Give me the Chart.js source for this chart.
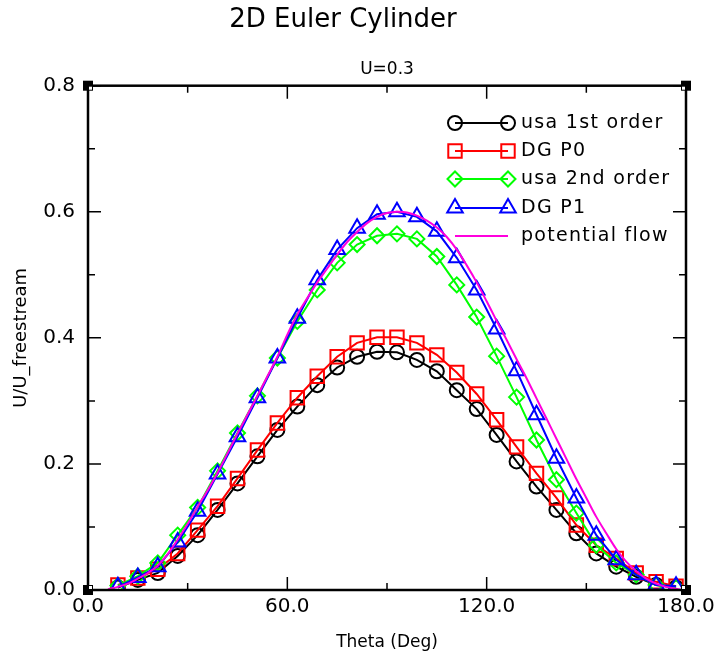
<!DOCTYPE html>
<html>
<head>
<meta charset="utf-8">
<script src="https://cdn.jsdelivr.net/npm/chart.js@4.4.1/dist/chart.umd.min.js"></script>
<style>
  html, body { margin: 0; padding: 0; background: #fff; }
  #wrap { width: 715px; height: 661px; }
</style>
</head>
<body>
<div id="wrap"><canvas id="myChart" width="715" height="661"></canvas></div>
<script>
// theta of the cell centres (deg)
const theta = [9, 15, 21, 27, 33, 39, 45, 51, 57, 63, 69, 75, 81, 87, 93, 99, 105, 111, 117, 123, 129, 135, 141, 147, 153, 159, 165, 171, 177];

const usa1st = [0.004, 0.016, 0.027, 0.054, 0.087, 0.127, 0.169, 0.212, 0.254, 0.291, 0.325, 0.353, 0.370, 0.378, 0.377,
  0.365, 0.347, 0.317, 0.287, 0.246, 0.204, 0.164, 0.127, 0.090, 0.058, 0.037, 0.021, 0.008, 0.004];
const dgP0 = [0.008, 0.019, 0.033, 0.058, 0.095, 0.133, 0.177, 0.222, 0.265, 0.305, 0.339, 0.370, 0.392, 0.401, 0.401,
  0.392, 0.373, 0.345, 0.311, 0.270, 0.227, 0.185, 0.146, 0.103, 0.071, 0.050, 0.027, 0.013, 0.006];
const usa2nd = [0.007, 0.022, 0.043, 0.087, 0.131, 0.189, 0.249, 0.308, 0.368, 0.426, 0.476, 0.519, 0.548, 0.562, 0.565,
  0.557, 0.529, 0.484, 0.433, 0.371, 0.306, 0.238, 0.175, 0.122, 0.071, 0.043, 0.024, 0.008, 0.004];
const dgP1 = [0.005, 0.020, 0.037, 0.076, 0.125, 0.184, 0.243, 0.305, 0.368, 0.431, 0.492, 0.540, 0.574, 0.596, 0.600,
  0.592, 0.569, 0.527, 0.476, 0.414, 0.348, 0.278, 0.209, 0.146, 0.087, 0.048, 0.024, 0.008, 0.006];

// potential flow curve
const potTheta = [6, 9, 12, 15, 18, 21, 24, 27, 30, 33, 36, 39, 42, 45, 48, 51, 54, 57, 60, 63, 66, 69, 72, 75, 78, 81, 84, 87, 90,
  93, 96, 99, 102, 105, 108, 111, 114, 117, 120, 123, 126, 129, 132, 135, 138, 141, 144, 147, 150, 153, 156, 159, 162, 165,
  168, 171, 174, 177, 179];
const potU = [0.001, 0.005, 0.010, 0.018, 0.027, 0.039, 0.057, 0.080, 0.105, 0.132, 0.158, 0.186, 0.217, 0.248, 0.278, 0.308,
  0.339, 0.370, 0.405, 0.437, 0.463, 0.488, 0.510, 0.532, 0.552, 0.568, 0.582, 0.592, 0.598, 0.600, 0.599, 0.594, 0.586,
  0.575, 0.560, 0.540, 0.515, 0.488, 0.458, 0.427, 0.397, 0.366, 0.336, 0.304, 0.272, 0.240, 0.208, 0.176, 0.146, 0.116,
  0.090, 0.065, 0.045, 0.030, 0.018, 0.010, 0.005, 0.002, 0.000];

const xMajor = [0, 60, 120, 180];
const xMinor = [30, 90, 150];
const xTickLabels = ['0.0', '60.0', '120.0', '180.0'];
const yMajor = [0, 0.2, 0.4, 0.6, 0.8];
const yMinor = [0.1, 0.3, 0.5, 0.7];
const yTickLabels = ['0.0', '0.2', '0.4', '0.6', '0.8'];

const FONT = 'DejaVu Sans';

function pts(xs, ys) {
    return xs.map((x, i) => ({ x: x, y: ys[i] }));
}

// frame, inward ticks, corner marks
const framePlugin = {
    id: 'frame',
    afterDatasetsDraw(chart) {
        const ctx = chart.ctx;
        const a = chart.chartArea;
        const xs = chart.scales.x, ys = chart.scales.y;
        ctx.save();
        ctx.strokeStyle = '#000';
        ctx.lineWidth = 2.5;
        ctx.strokeRect(a.left, a.top, a.right - a.left, a.bottom - a.top);
        ctx.lineWidth = 1.5;
        ctx.beginPath();
        const tick = (vals, len) => {
            vals.forEach(v => {
                const px = xs.getPixelForValue(v);
                ctx.moveTo(px, a.bottom); ctx.lineTo(px, a.bottom - len);
                ctx.moveTo(px, a.top); ctx.lineTo(px, a.top + len);
            });
        };
        const ytick = (vals, len) => {
            vals.forEach(v => {
                const py = ys.getPixelForValue(v);
                ctx.moveTo(a.left, py); ctx.lineTo(a.left + len, py);
                ctx.moveTo(a.right, py); ctx.lineTo(a.right - len, py);
            });
        };
        tick(xMajor, 13); tick(xMinor, 7);
        ytick(yMajor, 13); ytick(yMinor, 7);
        ctx.stroke();
        // corner squares
        [[a.left, a.top, 1, 1], [a.right, a.top, -1, 1], [a.left, a.bottom, 1, -1], [a.right, a.bottom, -1, -1]].forEach(c => {
            ctx.fillStyle = '#000';
            ctx.fillRect(c[0] - 5, c[1] - 5, 10, 10);
            ctx.fillStyle = '#fff';
            ctx.fillRect(c[0] + (c[2] > 0 ? 1 : -4), c[1] + (c[3] > 0 ? 1 : -4), 3, 3);
        });
        ctx.restore();
    }
};

// legend drawn inside the plot, top right
const legendPlugin = {
    id: 'boxLegend',
    afterDraw(chart) {
        const ctx = chart.ctx;
        const rows = [123, 151, 179, 208, 236];
        const x0 = 455, x1 = 508, tx = 521;
        ctx.save();
        chart.data.datasets.forEach((ds, i) => {
            const y = rows[ds.legendRow];
            ctx.strokeStyle = ds.borderColor;
            ctx.lineWidth = ds.borderWidth;
            ctx.beginPath();
            ctx.moveTo(x0, y); ctx.lineTo(x1, y);
            ctx.stroke();
            if (ds.pointRadius > 0) {
                const opt = { pointStyle: ds.pointStyle, radius: ds.pointRadius, rotation: 0, borderWidth: ds.pointBorderWidth };
                ctx.lineWidth = ds.pointBorderWidth;
                ctx.strokeStyle = ds.borderColor;
                ctx.fillStyle = 'rgba(0,0,0,0)';
                Chart.helpers.drawPoint(ctx, opt, x0, y);
                Chart.helpers.drawPoint(ctx, opt, x1, y);
            }
            ctx.fillStyle = '#000';
            ctx.font = '19px "' + FONT + '"';
            ctx.letterSpacing = '1.3px';
            ctx.textBaseline = 'middle';
            ctx.fillText(ds.label, tx, y);
        });
        ctx.restore();
    }
};

function series(label, data, color, style, radius, row, order) {
    return {
        label: label,
        data: data,
        showLine: true,
        borderColor: color,
        backgroundColor: 'rgba(0,0,0,0)',
        borderWidth: 2,
        pointStyle: style,
        pointRadius: radius,
        pointBorderWidth: 2,
        pointBorderColor: color,
        pointBackgroundColor: 'rgba(0,0,0,0)',
        legendRow: row,
        order: order
    };
}

const datasets = [
    series('usa 1st order', pts(theta, usa1st), '#000000', 'circle', 7, 0, 4),
    series('DG P0', pts(theta, dgP0), '#ff0000', 'rect', 9.5, 1, 3),
    series('usa 2nd order', pts(theta, usa2nd), '#00ff00', 'rectRot', 7.5, 2, 2),
    series('DG P1', pts(theta, dgP1), '#0000ff', 'triangle', 9, 3, 1),
    {
        label: 'potential flow',
        data: pts(potTheta, potU),
        showLine: true,
        borderColor: '#ff00dd',
        borderWidth: 2,
        pointRadius: 0,
        tension: 0.3,
        legendRow: 4,
        order: 0
    }
];

const ctx = document.getElementById('myChart');
new Chart(ctx, {
    type: 'scatter',
    data: { datasets: datasets },
    options: {
        responsive: false,
        animation: false,
        layout: { padding: { left: 0, right: 29, top: 0, bottom: 0 } },
        plugins: {
            legend: { display: false },
            tooltip: { enabled: false },
            title: {
                display: true,
                text: '2D Euler Cylinder',
                color: '#000',
                font: { family: FONT, size: 26, weight: 'normal' },
                padding: { top: 5, bottom: 0 }
            }
        },
        scales: {
            x: {
                type: 'linear', min: 0, max: 180,
                afterBuildTicks: s => { s.ticks = xMajor.map(v => ({ value: v })); },
                afterFit: s => { s.height = 71; s.paddingLeft = 0; s.paddingRight = 0; },
                ticks: {
                    callback: (v, i) => xTickLabels[i],
                    color: '#000', font: { family: FONT, size: 20 }, padding: 5,
                    maxRotation: 0, autoSkip: false
                },
                grid: { display: false, drawTicks: false },
                border: { display: false },
                title: { display: true, text: 'Theta (Deg)', color: '#000', font: { family: FONT, size: 17 }, padding: { top: 0, bottom: 8 } }
            },
            x2: {
                type: 'linear', position: 'top', min: 0, max: 180,
                afterFit: s => { s.height = 49.5; },
                ticks: { display: false },
                grid: { display: false, drawTicks: false },
                border: { display: false },
                title: { display: true, text: 'U=0.3', color: '#000', font: { family: FONT, size: 17 }, padding: { top: 23, bottom: 0 } }
            },
            y: {
                type: 'linear', min: 0, max: 0.8,
                afterBuildTicks: s => { s.ticks = yMajor.map(v => ({ value: v })); },
                afterFit: s => { s.width = 88; },
                ticks: {
                    callback: (v, i) => yTickLabels[i],
                    color: '#000', font: { family: FONT, size: 20 }, padding: 13
                },
                grid: { display: false, drawTicks: false },
                border: { display: false },
                title: { display: true, text: 'U/U_freestream', color: '#000', font: { family: FONT, size: 18 }, padding: { top: 11, bottom: 0 } }
            }
        }
    },
    plugins: [framePlugin, legendPlugin]
});
</script>
</body>
</html>
